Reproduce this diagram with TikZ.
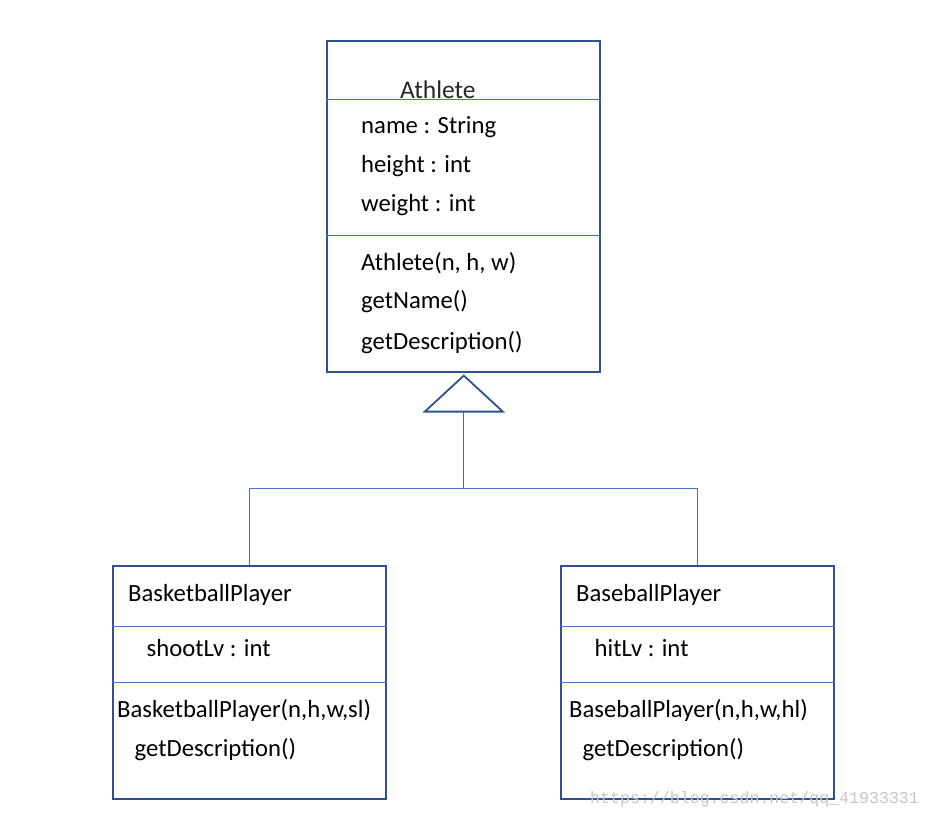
\documentclass[tikz,border=0pt]{standalone}
\usepackage{fontspec}
\setmainfont{Carlito}
\newfontfamily\wmfont{Liberation Mono}
\usetikzlibrary{calc}
\definecolor{boxblue}{HTML}{2F528F}
\definecolor{lineblue}{HTML}{4472C4}
\definecolor{stemblue}{HTML}{4A6AA5}
\begin{document}
\begin{tikzpicture}[x=1bp,y=-1bp,
  classbox/.style={draw=boxblue,line width=1.6bp,rectangle,inner sep=0,anchor=north west},
  divider/.style={draw=lineblue,line width=0.8bp},
  conn/.style={draw=lineblue,line width=1bp},
  txt/.style={anchor=base west,inner sep=0,font=\fontsize{24.7bp}{28bp}\selectfont},
  titletxt/.style={anchor=base west,inner sep=0,text=black!85,font=\fontsize{25.5bp}{28bp}\selectfont},
  wm/.style={anchor=base west,inner sep=0,text=black!22,font=\wmfont\fontsize{16.6bp}{20bp}\selectfont},
]
\useasboundingbox (0,0) rectangle (932,816);

% class boxes
\node[classbox,minimum width=273bp,minimum height=331bp] (athlete) at (326,40) {};
\node[classbox,minimum width=273bp,minimum height=233bp] (basket) at (112,565) {};
\node[classbox,minimum width=273bp,minimum height=233bp] (baseball) at (560,565) {};

% divider levels
\coordinate (d1) at (0,99);
\coordinate (d2) at (0,235);
\coordinate (d3) at (0,626);
\coordinate (d4) at (0,682);
\draw[divider] (athlete.west |- d1) -- (athlete.east |- d1);
\draw[divider] (athlete.west |- d2) -- (athlete.east |- d2);
\draw[divider] (basket.west |- d3) -- (basket.east |- d3);
\draw[divider] (basket.west |- d4) -- (basket.east |- d4);
\draw[divider] (baseball.west |- d3) -- (baseball.east |- d3);
\draw[divider] (baseball.west |- d4) -- (baseball.east |- d4);

% Athlete texts
\node[titletxt] (tA) at (400,98) {Athlete};
\node[txt] (a1) at (361,133) {name : String};
\node[txt] (a2) at (361,172) {height : int};
\node[txt] (a3) at (361,211) {weight : int};
\node[txt] (a4) at (361,270) {Athlete(n, h, w)};
\node[txt] (a5) at (361,308) {getName()};
\node[txt] (a6) at (361,349.5) {getDescription()};

% BasketballPlayer texts
\node[txt] (b1) at (128,601) {BasketballPlayer};
\node[txt] (b2) at (146.5,656) {shootLv : int};
\node[txt] (b3) at (117,717.5) {BasketballPlayer(n,h,w,sl)};
\node[txt] (b4) at (134.5,756) {getDescription()};

% BaseballPlayer texts
\node[txt] (c1) at (576,601) {BaseballPlayer};
\node[txt] (c2) at (594.5,656) {hitLv : int};
\node[txt] (c3) at (569,717.5) {BaseballPlayer(n,h,w,hl)};
\node[txt] (c4) at (582.5,756) {getDescription()};

% generalization
\coordinate (apex) at ($(athlete.south)+(0.5,3)$);
\coordinate (tribase) at ($(apex)+(0,36)$);
\coordinate (junction) at ($(apex)+(0,113)$);
\draw[stemblue,line width=1bp] (tribase) -- (junction);
\draw[conn] (basket.north) |- (junction) -| (baseball.north);
\draw[boxblue,line width=1.8bp,line join=miter,fill=white] (apex) -- ($(tribase)+(-39,0)$) -- ($(tribase)+(39,0)$) -- cycle;

% watermark
\node[wm] (wmk) at (590,803) {https://blog.csdn.net/qq\_41933331};
\end{tikzpicture}
\end{document}
